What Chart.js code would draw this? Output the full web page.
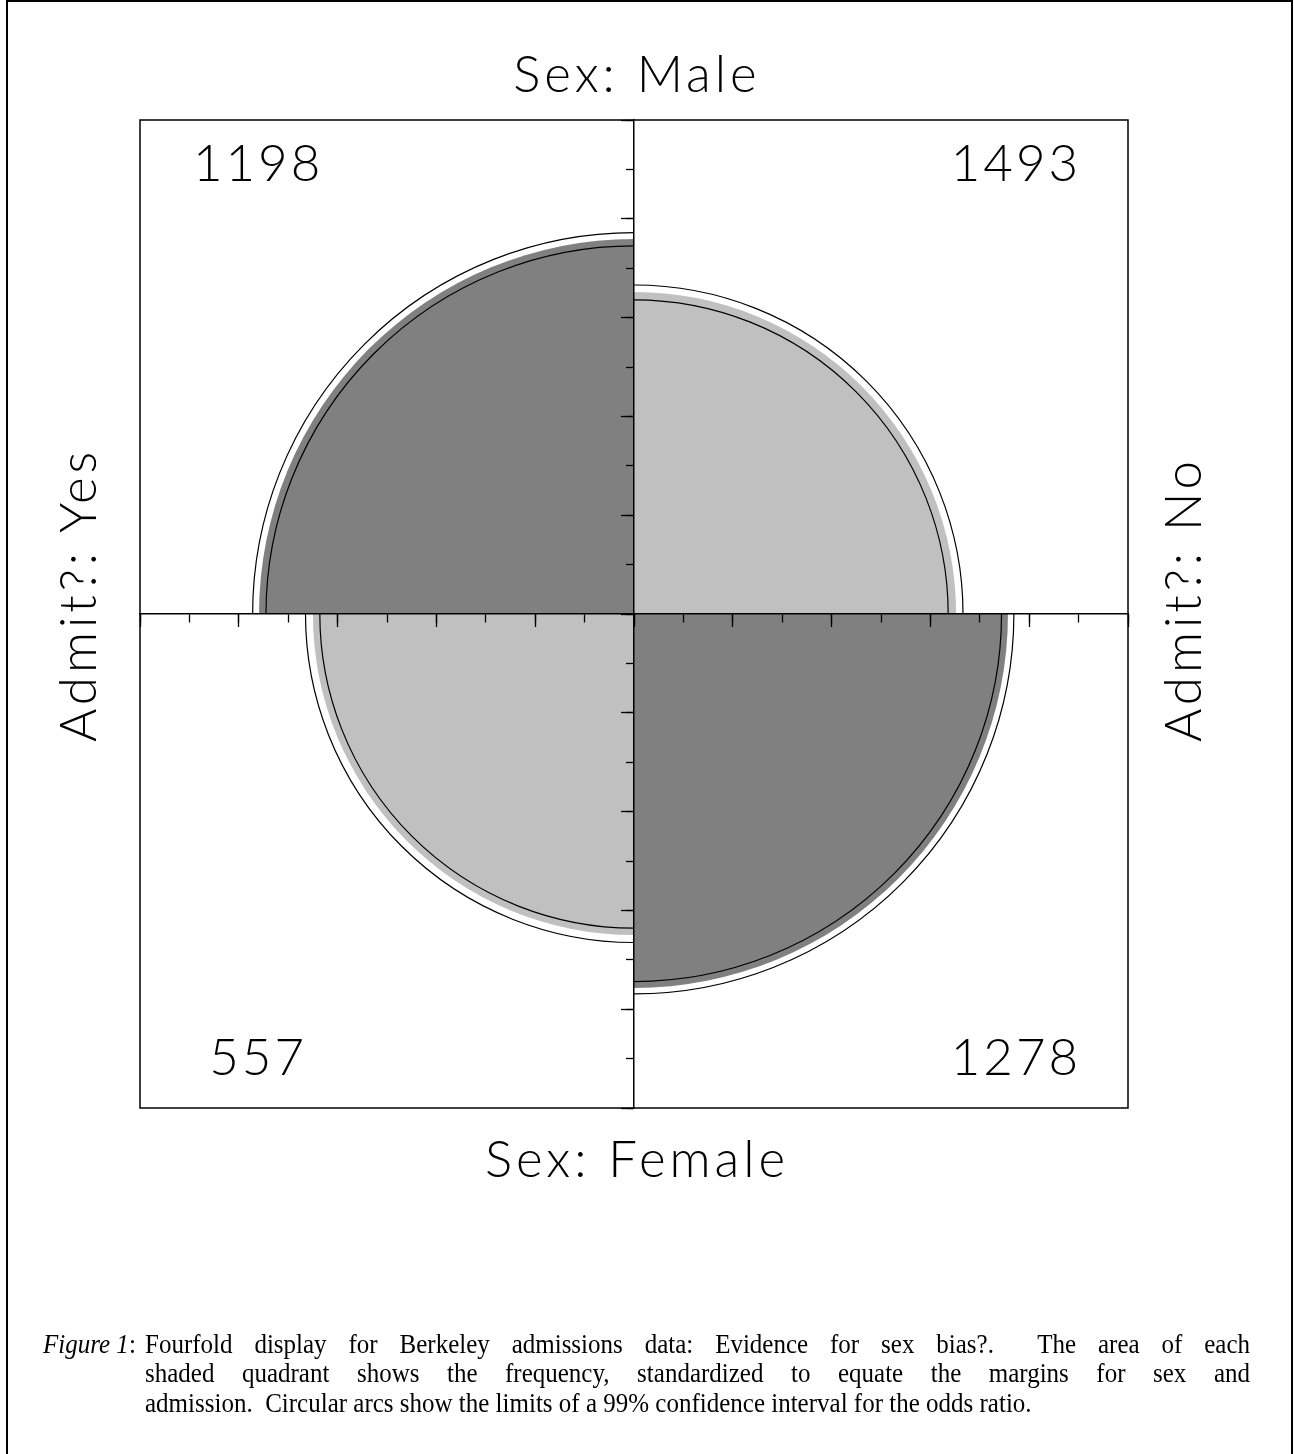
<!DOCTYPE html>
<html>
<head>
<meta charset="utf-8">
<title>Fourfold display - Berkeley admissions</title>
<script src="https://cdn.jsdelivr.net/npm/chart.js@4.4.1/dist/chart.umd.min.js"></script>
<style>
  html, body { margin: 0; padding: 0; background: #fff; }
  body { width: 1294px; height: 1454px; position: relative; overflow: hidden; }
  #chart { position: absolute; left: 0; top: 0; }
  .page-frame { position: absolute; left: 6px; top: 0; width: 1287px; height: 1480px; border: 2px solid #000; box-sizing: border-box; }
  .lbl { position: absolute; font-family: Lato, "DejaVu Sans", sans-serif; font-weight: 300; font-size: 51px; line-height: 51px; letter-spacing: 4px; color: #000; white-space: nowrap; }
  .lbl.top, .lbl.bottom { left: -10px; width: 1294px; text-align: center; }
  .lbl.side { transform-origin: 0 0; transform: rotate(-90deg); }
  .cap { position: absolute; font-family: "Liberation Serif", "Times New Roman", serif; font-size: 25px; line-height: 27.3px; color: #000; transform-origin: 0 0; transform: scaleY(1.08); }
  .cap .ln { text-align: justify; text-align-last: justify; white-space: nowrap; }
  .cap .ln.last { text-align-last: left; }
</style>
</head>
<body>
<div class="page-frame"></div>
<canvas id="chart" width="1294" height="1454"></canvas>

<div class="lbl top" style="top:47px;">Sex: Male</div>
<div class="lbl bottom" style="top:1132px;">Sex: Female</div>
<div class="lbl side" style="left:51px; top:742px;">Admit?: Yes</div>
<div class="lbl side" style="left:1156px; top:742px;">Admit?: No</div>

<div class="cap" style="left:43px; top:1329px;"><i>Figure 1</i>:</div>
<div class="cap" style="left:145px; top:1329px; width:1105px;">
  <div class="ln">Fourfold display for Berkeley admissions data: Evidence for sex bias?.&nbsp; The area of each</div>
  <div class="ln">shaded quadrant shows the frequency, standardized to equate the margins for sex and</div>
  <div class="ln last">admission.&nbsp; Circular arcs show the limits of a 99% confidence interval for the odds ratio.</div>
</div>

<script>
// Cells: Sex x Admit, in order top-left, top-right, bottom-left, bottom-right
const cells = ['Male / Admit Yes', 'Male / Admit No', 'Female / Admit Yes', 'Female / Admit No'];
const counts = [1198, 1493, 557, 1278];
// standardized quadrant radius (fraction of half the square)
const radius = [0.759, 0.652, 0.650, 0.757];
// 99% confidence arcs for the odds ratio
const ciLower = [0.745, 0.636, 0.636, 0.744];
const ciUpper = [0.772, 0.666, 0.665, 0.769];

// Styles / layout
const DARK = '#808080';
const LIGHT = '#c0c0c0';
const shade = [DARK, LIGHT, LIGHT, DARK];
const sideX = [-1, 1, -1, 1];
const sideY = [1, 1, -1, -1];
const LABEL_FONT = '300 51px Lato, "DejaVu Sans", sans-serif';

function quadrantAngles(i) {
  if (sideX[i] < 0 && sideY[i] > 0) return [Math.PI, 1.5 * Math.PI];
  if (sideX[i] > 0 && sideY[i] > 0) return [1.5 * Math.PI, 2 * Math.PI];
  if (sideX[i] < 0 && sideY[i] < 0) return [0.5 * Math.PI, Math.PI];
  return [0, 0.5 * Math.PI];
}

// Draws the shaded quadrants, confidence arcs and cell counts via the scales
const fourfoldPlugin = {
  id: 'fourfold',
  beforeDraw(chart) {
    const { ctx, scales: { x, y } } = chart;
    const cx = x.getPixelForValue(0);
    const cy = y.getPixelForValue(0);
    const rpx = (v) => x.getPixelForValue(v) - cx;

    ctx.save();
    cells.forEach((c, i) => {
      const [a0, a1] = quadrantAngles(i);
      ctx.beginPath();
      ctx.moveTo(cx, cy);
      ctx.arc(cx, cy, rpx(radius[i]), a0, a1);
      ctx.closePath();
      ctx.fillStyle = shade[i];
      ctx.fill();

      ctx.strokeStyle = '#000';
      ctx.lineWidth = 1.2;
      [ciLower[i], ciUpper[i]].forEach(r => {
        ctx.beginPath();
        ctx.arc(cx, cy, rpx(r), a0, a1);
        ctx.stroke();
      });
    });

    // cell frequencies in the corners
    ctx.fillStyle = '#000';
    ctx.font = LABEL_FONT;
    ctx.letterSpacing = '3px';
    ctx.textAlign = 'center';
    ctx.textBaseline = 'alphabetic';
    counts.forEach((n, i) => {
      const tx = x.getPixelForValue(sideX[i] * 0.767) + 3;
      const ty = y.getPixelForValue(sideY[i] > 0 ? 0.877 : -0.933);
      ctx.fillText(String(n), tx, ty);
    });
    ctx.restore();
  },
  afterDraw(chart) {
    const { ctx, chartArea: a } = chart;
    ctx.save();
    ctx.strokeStyle = '#000';
    ctx.lineWidth = 1.5;
    ctx.strokeRect(a.left, a.top, a.right - a.left, a.bottom - a.top);
    ctx.restore();
  }
};

function centerAxis(axis, step, len, withBorder) {
  const cross = axis === 'x' ? { y: 0 } : { x: 0 };
  return {
    type: 'linear',
    axis: axis,
    min: -1,
    max: 1,
    position: cross,
    ticks: { display: false, stepSize: step },
    grid: { display: true, drawOnChartArea: false, drawTicks: true, tickLength: len, tickColor: '#000', tickWidth: 1.3 },
    border: { display: withBorder, color: '#000', width: 1.5 }
  };
}

new Chart(document.getElementById('chart'), {
  type: 'scatter',
  data: { datasets: [] },
  options: {
    responsive: false,
    animation: false,
    layout: { padding: { left: 140, top: 120, right: 166, bottom: 346 } },
    plugins: { legend: { display: false }, tooltip: { enabled: false } },
    scales: {
      x: centerAxis('x', 0.1, 8, true),
      xMajor: centerAxis('x', 0.2, 13, false),
      y: centerAxis('y', 0.1, 7, true),
      yMajor: centerAxis('y', 0.2, 13, false)
    }
  },
  plugins: [fourfoldPlugin]
});
</script>
</body>
</html>
